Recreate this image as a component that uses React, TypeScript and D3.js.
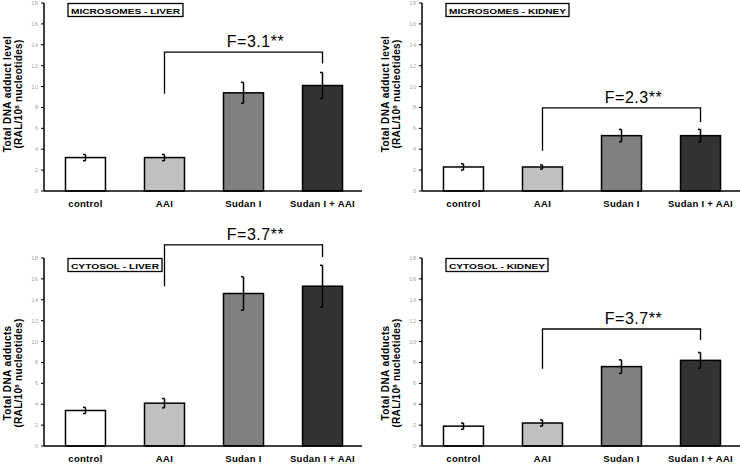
import React from "react";
import * as d3 from "d3";

const categories = ["control", "AAI", "Sudan I", "Sudan I + AAI"];
const yTicks = [0, 2, 4, 6, 8, 10, 12, 14, 16, 18];

const panelTitles = ["MICROSOMES - LIVER", "MICROSOMES - KIDNEY", "CYTOSOL - LIVER", "CYTOSOL - KIDNEY"];
const yLabelLine1 = ["Total DNA adduct level", "Total DNA adduct level", "Total DNA adducts", "Total DNA adducts"];

const microLiverValues = [3.2, 3.2, 9.4, 10.1];
const microLiverErrors = [0.3, 0.3, 1.0, 1.25];
const microKidneyValues = [2.3, 2.3, 5.3, 5.3];
const microKidneyErrors = [0.3, 0.2, 0.6, 0.6];
const cytoLiverValues = [3.4, 4.1, 14.6, 15.3];
const cytoLiverErrors = [0.3, 0.45, 1.6, 2.0];
const cytoKidneyValues = [1.9, 2.2, 7.6, 8.2];
const cytoKidneyErrors = [0.3, 0.3, 0.65, 0.75];

const fLabels = ["F=3.1**", "F=2.3**", "F=3.7**", "F=3.7**"];
// bracket levels in data units: [top, left end, right end]
const bracketTop = [13.3, 7.95, 19.25, 11.2];
const bracketLeftEnd = [9.3, 3.85, 15.3, 7.4];
const bracketRightEnd = [12.2, 6.6, 18.1, 10.15];

const barColors = ["#ffffff", "#c0c0c0", "#808080", "#333333"];

const valuesList = [microLiverValues, microKidneyValues, cytoLiverValues, cytoKidneyValues];
const errorsList = [microLiverErrors, microKidneyErrors, cytoLiverErrors, cytoKidneyErrors];

const layout = [
  { ox: 44, y0: 191 },
  { ox: 422, y0: 191 },
  { ox: 44, y0: 446 },
  { ox: 422, y0: 446 },
];
const titleWidths = [115, 123, 94, 102];

const FONT = "'Liberation Sans', Arial, sans-serif";

function Panel({ i }: { i: number }) {
  const { ox, y0 } = layout[i];
  const axisLen = 318;
  const plotH = 188;
  const y = d3.scaleLinear().domain([0, 18]).range([y0, y0 - plotH]);
  const x = d3
    .scaleBand<string>()
    .domain(categories)
    .range([ox, ox + 320])
    .paddingInner(0.494)
    .paddingOuter(0.272);
  const bw = x.bandwidth();
  const values = valuesList[i];
  const errors = errorsList[i];
  const cx = (c: string) => (x(c) as number) + bw / 2;
  const bl = cx(categories[1]);
  const br = cx(categories[3]);
  const midY = y0 - plotH / 2;
  const yLabX = ox - 33;

  return (
    <g>
      {/* y label */}
      <g transform={`translate(${yLabX},${midY + (i >= 2 ? 21 : -3)}) rotate(-90)`}>
        <text x={0} y={0} textAnchor="middle" fontSize={10} fontWeight="bold" fontFamily={FONT} fill="#000" letterSpacing={0.4}>
          {yLabelLine1[i]}
        </text>
        <text x={0} y={11} textAnchor="middle" fontSize={10} fontWeight="bold" fontFamily={FONT} fill="#000" letterSpacing={0.3}>
          (RAL/10<tspan fontSize={6} dy={-3}>8</tspan><tspan dy={3}> nucleotides)</tspan>
        </text>
      </g>
      {/* y axis */}
      <line x1={ox} x2={ox} y1={y(0)} y2={y(18)} stroke="#000" strokeWidth={1.5} />
      {yTicks.map((t) => (
        <g key={t}>
          <line x1={ox - 3} x2={ox} y1={y(t)} y2={y(t)} stroke="#000" strokeWidth={1} />
          <text x={ox - 6} y={y(t) + 2} textAnchor="end" fontSize={6} fontFamily={FONT} fill="#aaa">
            {t}
          </text>
        </g>
      ))}
      {/* bars */}
      {categories.map((c, k) => (
        <rect
          key={c}
          x={x(c)}
          y={y(values[k])}
          width={bw}
          height={y(0) - y(values[k])}
          fill={barColors[k]}
          stroke="#000"
          strokeWidth={1.5}
        />
      ))}
      {/* error bars */}
      {categories.map((c, k) => {
        const xc = cx(c);
        const top = y(values[k] + errors[k]);
        const bot = y(values[k] - errors[k]);
        return (
          <g key={c} stroke="#000" strokeWidth={1.5} fill="none">
            <line x1={xc} x2={xc} y1={top} y2={bot} />
            <line x1={xc - 2.5} x2={xc} y1={top} y2={top} />
            <line x1={xc - 2.5} x2={xc} y1={bot} y2={bot} />
          </g>
        );
      })}
      {/* x axis */}
      <line x1={ox} x2={ox + axisLen} y1={y0} y2={y0} stroke="#000" strokeWidth={1.5} />
      {categories.map((c) => (
        <text key={c} x={cx(c)} y={y0 + 16} textAnchor="middle" fontSize={9.5} fontWeight="bold" fontFamily={FONT} fill="#000" letterSpacing={0.3}>
          {c}
        </text>
      ))}
      {/* bracket */}
      <path
        d={`M${bl},${y(bracketLeftEnd[i])}V${y(bracketTop[i])}H${br}V${y(bracketRightEnd[i])}`}
        fill="none"
        stroke="#000"
        strokeWidth={1.3}
      />
      <text
        x={(bl + br) / 2 + 12}
        y={y(bracketTop[i]) - 5}
        textAnchor="middle"
        fontSize={16}
        fontFamily={FONT}
        fill="#000"
        letterSpacing={0.5}
      >
        {fLabels[i]}
      </text>
      {/* title box */}
      <rect x={ox + 24} y={y(18) + 0.5} width={titleWidths[i]} height={13} fill="#fff" stroke="#000" strokeWidth={1.3} />
      <text
        x={ox + 24 + titleWidths[i] / 2}
        y={y(18) + 10.5}
        textAnchor="middle"
        fontSize={8}
        fontWeight="bold"
        fontFamily={FONT}
        fill="#000"
        textLength={titleWidths[i] - 6}
        lengthAdjust="spacingAndGlyphs"
      >
        {panelTitles[i]}
      </text>
    </g>
  );
}

export default function App() {
  return (
    <svg
      width={740}
      height={464}
      style={{ position: "absolute", left: 0, top: 0, background: "#fff" }}
    >
      <rect x={0} y={0} width={740} height={464} fill="#fff" />
      {[0, 1, 2, 3].map((i) => (
        <Panel key={i} i={i} />
      ))}
    </svg>
  );
}
